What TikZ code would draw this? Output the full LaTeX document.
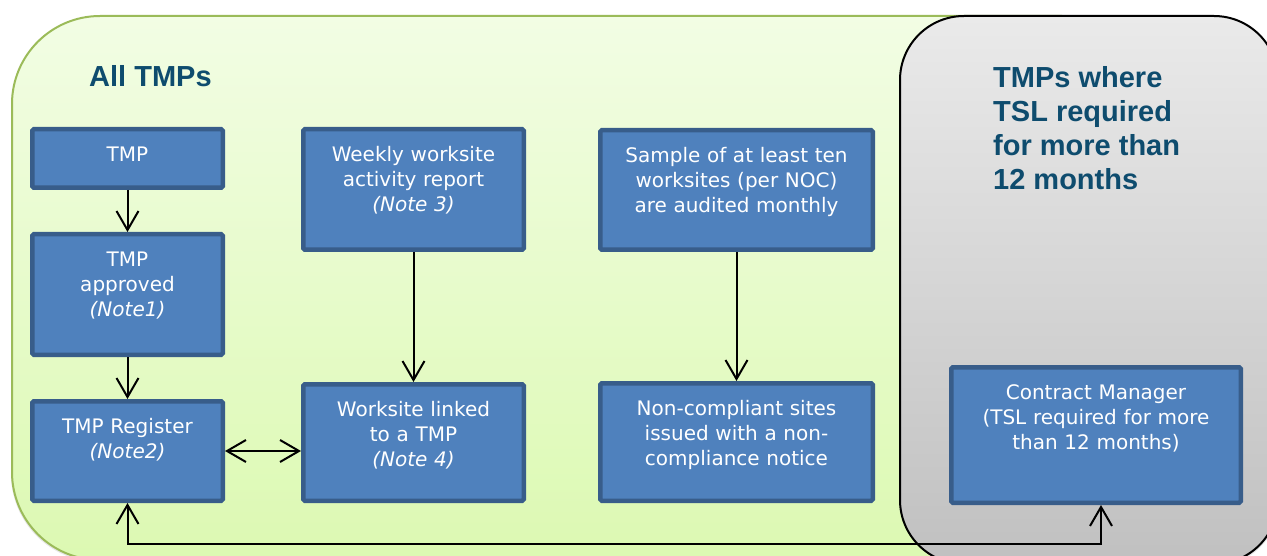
\documentclass[tikz,border=0pt]{standalone}
\usepackage{fontspec}
\usetikzlibrary{arrows.meta,shadows}
\newfontfamily\boxfont{DejaVu Sans}[ItalicFont={DejaVu Sans Oblique}]
\newfontfamily\headfont{Liberation Sans}

\definecolor{boxfill}{RGB}{79,129,189}
\definecolor{boxedge}{RGB}{56,93,138}
\definecolor{headblue}{RGB}{14,76,110}
\definecolor{greenedge}{RGB}{155,187,89}
\definecolor{greentop}{RGB}{242,253,228}
\definecolor{greenbottom}{RGB}{220,249,178}
\definecolor{greytop}{RGB}{234,234,234}
\definecolor{greybottom}{RGB}{192,192,192}

\tikzset{
  taskbox/.style={draw=boxedge, fill=boxfill, line width=4.5pt, rounded corners=1.5pt,
    inner sep=0pt, align=center, text=white,
    font=\boxfont\fontsize{20}{25}\selectfont, text height=32pt},
  heading/.style={inner sep=0pt, align=left, text=headblue,
    font=\headfont\bfseries\fontsize{29}{34}\selectfont},
  flow/.style={line width=2pt},
}

\begin{document}
\begin{tikzpicture}[x=1pt, y=-1pt, >={Straight Barb[length=19pt,width=22pt]}]
    \useasboundingbox (0,0) rectangle (1267,556);
    \clip (0,0) rectangle (1267,556);

    % the two panels
    \draw[greenedge, line width=2pt, top color=greentop, bottom color=greenbottom,
      rounded corners=88pt, drop shadow={opacity=0.2, shadow xshift=-1pt, shadow yshift=-2pt}]
      (12,16) rectangle (1150,560);
    \draw[black, line width=2pt, top color=greytop, bottom color=greybottom,
      rounded corners=64pt, drop shadow={opacity=0.2, shadow xshift=1pt, shadow yshift=-2pt}]
      (900,16) rectangle (1278,564);

    \node[heading, anchor=base west] (alltitle) at (89,87) {All TMPs};
    \node[heading, anchor=north west] (tsltitle) at (993,66) {TMPs where\\TSL required\\for more than\\12 months};

    % boxes
    \node[taskbox, text width=190.5pt, text depth=26.5pt] (tmp) at (127.5,158.5) {TMP};
    \node[taskbox, text width=190.5pt, text depth=88.5pt] (approved) at (127.5,294.5) {TMP\\approved\\\textit{(Note1)}};
    \node[taskbox, text width=190.5pt, text depth=67.5pt] (register) at (127.5,451) {TMP Register\\\textit{(Note2)}};
    \node[taskbox, text width=220.5pt, text depth=88.5pt] (weekly) at (413.5,189.5) {Weekly worksite\\activity report\\\textit{(Note 3)}};
    \node[taskbox, text width=220.5pt, text depth=84.5pt] (linked) at (413.5,442.5) {Worksite linked\\to a TMP\\\textit{(Note 4)}};
    \node[taskbox, text width=272.5pt, text depth=87.5pt] (sample) at (736.5,190) {Sample of at least ten\\worksites (per NOC)\\are audited monthly};
    \node[taskbox, text width=272.5pt, text depth=85.5pt] (noncomp) at (736.5,442) {Non-compliant sites\\issued with a non-\\compliance notice};
    \node[taskbox, text width=289.5pt, text depth=103.5pt] (contract) at (1096,435) {Contract Manager\\(TSL required for more\\than 12 months)};

    % connectors
    \coordinate (returnline) at (0,544);
    \draw[flow, ->] (tmp) -- (approved);
    \draw[flow, ->] (approved) -- (register);
    \draw[flow, ->] (weekly) -- (linked);
    \draw[flow, ->] (sample) -- (noncomp);
    \draw[flow, <->] (register) -- (register -| linked.west);
    \draw[flow, <->] (register) -- (register |- returnline) -| ([xshift=5pt]contract.south);
\end{tikzpicture}
\end{document}
